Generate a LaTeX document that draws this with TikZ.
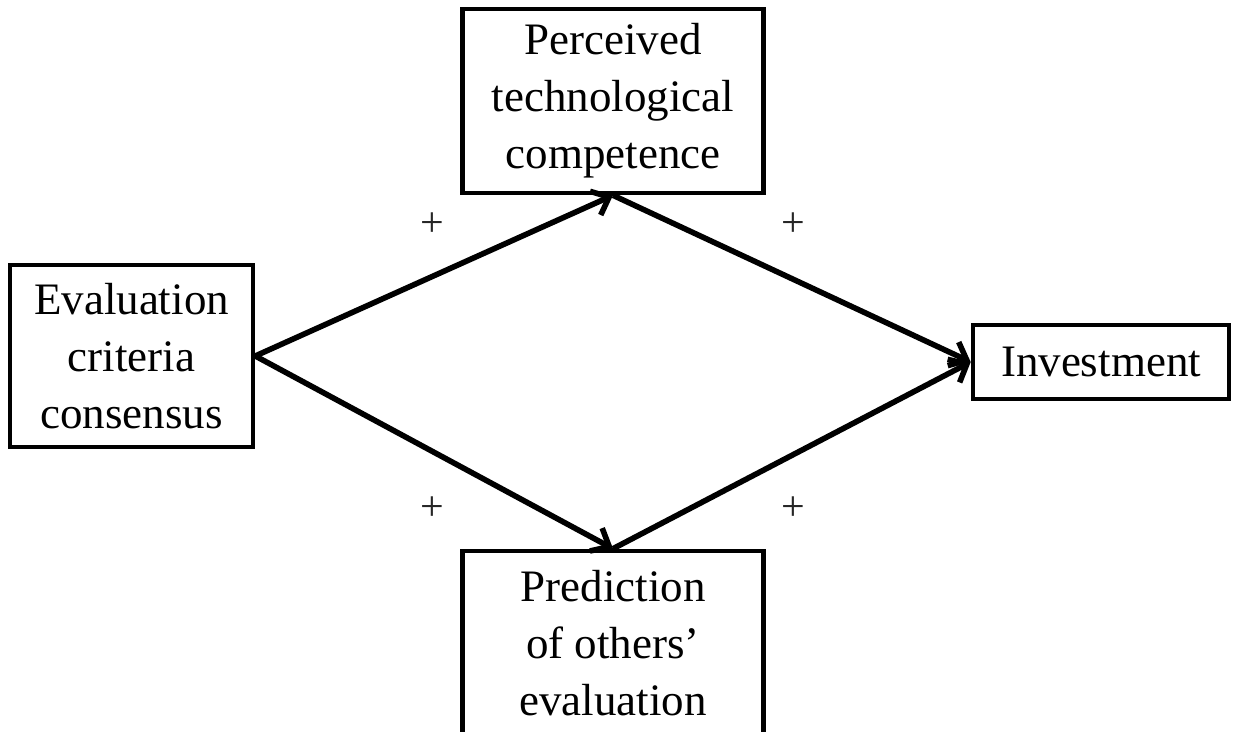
\documentclass[tikz,border=0pt]{standalone}
\usepackage{fontspec}
\setmainfont{Liberation Serif}
\usetikzlibrary{arrows.meta}

\begin{document}
\begin{tikzpicture}[x=0.5pt, y=-0.5pt,
    concept/.style={draw, line width=2.3pt, inner sep=0pt, align=center,
        font=\fontsize{22.5}{28.5}\selectfont},
    link/.style={line width=2.8pt, -{Straight Barb[length=7.5pt, width=13pt]}},
    sign/.style={font=\fontsize{21}{24}\selectfont, text=black!85}]
    % Page frame
    \useasboundingbox (0,0) rectangle (1233,732);

    % Draw the concept boxes
    \node[concept, minimum width=121.5pt, minimum height=91pt] (consensus) at (131.5,356)
        {Evaluation\\criteria\\consensus};
    \node[concept, minimum width=150.5pt, minimum height=92pt] (competence) at (613,101)
        {Perceived\\technological\\competence};
    \node[concept, minimum width=150.5pt, minimum height=92pt] (prediction) at (613,643)
        {Prediction\\of others’\\evaluation};
    \node[concept, minimum width=128pt, minimum height=37pt] (investment) at (1101,362)
        {Investment};

    % Draw the paths
    \draw[link] (consensus.east) -- (competence.south);
    \draw[link] (consensus.east) -- (prediction.north);
    \draw[link] (competence.south) -- (investment.west);
    \draw[link] (prediction.north) -- (investment.west);

    % Signs of the paths
    \node[sign] (signA) at (432,225) {+};
    \node[sign] (signB) at (793,225) {+};
    \node[sign] (signC) at (432,509) {+};
    \node[sign] (signD) at (793,509) {+};
\end{tikzpicture}
\end{document}
